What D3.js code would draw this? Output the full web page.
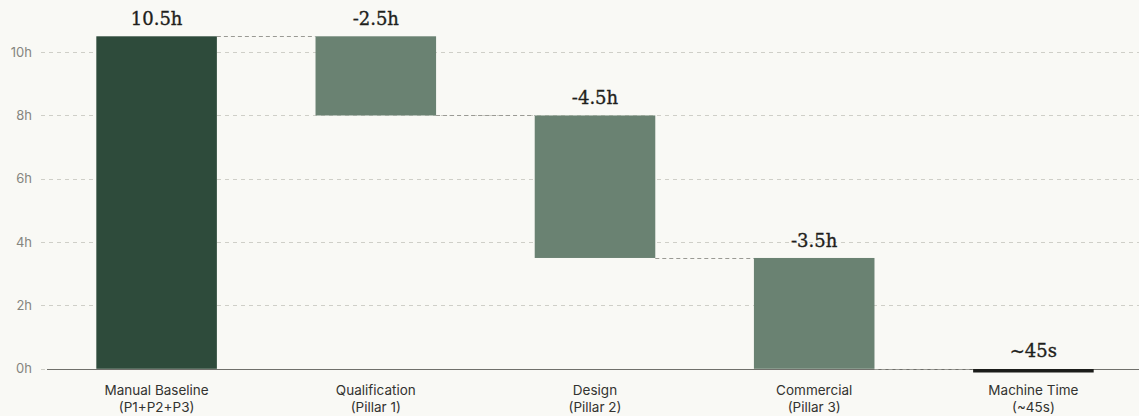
<!DOCTYPE html>
<html>
<head>
<meta charset="utf-8">
<script src="https://cdn.jsdelivr.net/npm/d3@7"></script>
<style>
  html, body { margin: 0; padding: 0; background: #f9f9f5; }
  svg { display: block; }
</style>
</head>
<body>
<svg id="chart" width="1139" height="416"></svg>
<script>
// waterfall: hours saved per pillar
const categories = ["Manual Baseline", "Qualification", "Design", "Commercial", "Machine Time"];
const subLabels = ["(P1+P2+P3)", "(Pillar 1)", "(Pillar 2)", "(Pillar 3)", "(~45s)"];
const changes = [10.5, -2.5, -4.5, -3.5, 0.0125];
const kinds = ["total", "step", "step", "step", "result"];
const valueLabels = ["10.5h", "-2.5h", "-4.5h", "-3.5h", "~45s"];
const yTicks = [0, 2, 4, 6, 8, 10];

const width = 1139, height = 416;
const margin = { top: 36, right: -4, bottom: 47, left: 47 };

const svg = d3.select("#chart");

// running totals -> start / end for every bar
let run = 0;
const bars = categories.map((c, i) => {
  let start, end;
  if (kinds[i] === "total") { start = 0; end = changes[i]; run = end; }
  else if (kinds[i] === "step") { start = run; end = run + changes[i]; run = end; }
  else { start = 0; end = changes[i]; }
  return { name: c, sub: subLabels[i], kind: kinds[i], start, end, label: valueLabels[i] };
});

const x = d3.scaleBand()
  .domain(categories)
  .range([margin.left, width - margin.right])
  .paddingInner(0.45)
  .paddingOuter(0.225);

const y = d3.scaleLinear()
  .domain([0, 10.5])
  .range([height - margin.bottom - 0.2, margin.top + 0.3]);

// grid
const grid = svg.append("g");
grid.selectAll("line")
  .data(yTicks)
  .enter()
  .append("line")
  .attr("x1", 41)
  .attr("x2", width)
  .attr("y1", d => Math.round(y(d)) + 0.5)
  .attr("y2", d => Math.round(y(d)) + 0.5)
  .attr("stroke", "#cfcfc8")
  .attr("stroke-dasharray", "4,4");

grid.selectAll("text")
  .data(yTicks)
  .enter()
  .append("text")
  .attr("x", 32)
  .attr("y", d => y(d))
  .attr("dy", "0.35em")
  .attr("text-anchor", "end")
  .attr("font-family", "Inter, 'Noto Sans', sans-serif")
  .attr("font-size", 13)
  .attr("fill", "#85857f")
  .text(d => d + "h");

// zero axis line
svg.append("line")
  .attr("x1", margin.left)
  .attr("x2", width)
  .attr("y1", Math.round(y(0)) + 0.5)
  .attr("y2", Math.round(y(0)) + 0.5)
  .attr("stroke", "#70706b")
  .attr("stroke-width", 1);

// connectors
const conn = svg.append("g");
for (let i = 0; i < bars.length - 1; i++) {
  const yy = Math.round(y(bars[i].end)) + 0.5;
  conn.append("line")
    .attr("x1", x(bars[i].name) + x.bandwidth())
    .attr("x2", x(bars[i + 1].name))
    .attr("y1", yy)
    .attr("y2", yy)
    .attr("stroke", "#9a9a94")
    .attr("stroke-dasharray", "4,3");
}

// bars (tiny result bar hangs just under the axis)
const colors = { total: "#2e4b3b", step: "#6a8272", result: "#1c1d1a" };
svg.append("g")
  .selectAll("rect")
  .data(bars)
  .enter()
  .append("rect")
  .attr("x", d => x(d.name))
  .attr("width", x.bandwidth())
  .attr("y", d => d.kind === "result" ? Math.round(y(0)) : y(Math.max(d.start, d.end)))
  .attr("height", d => d.kind === "result" ? 3.5 : Math.abs(y(d.start) - y(d.end)))
  .attr("fill", d => colors[d.kind]);

// value labels
svg.append("g")
  .selectAll("text")
  .data(bars)
  .enter()
  .append("text")
  .attr("x", d => x(d.name) + x.bandwidth() / 2)
  .attr("y", d => y(Math.max(d.start, d.end)) - 11)
  .attr("text-anchor", "middle")
  .attr("font-family", "'DejaVu Serif', 'Liberation Serif', serif")
  .attr("font-size", 18)
  .attr("fill", "#1f1f1c")
  .attr("stroke", "#1f1f1c")
  .attr("stroke-width", 0.35)
  .text(d => d.label);

// category labels
const cat = svg.append("g")
  .selectAll("text")
  .data(bars)
  .enter()
  .append("text")
  .attr("x", d => x(d.name) + x.bandwidth() / 2)
  .attr("y", 395)
  .attr("text-anchor", "middle")
  .attr("font-family", "Inter, 'Noto Sans', sans-serif")
  .attr("font-size", 13.5)
  .attr("fill", "#333330");
cat.append("tspan").text(d => d.name);
cat.append("tspan")
  .attr("x", d => x(d.name) + x.bandwidth() / 2)
  .attr("dy", 17)
  .text(d => d.sub);
</script>
</body>
</html>
